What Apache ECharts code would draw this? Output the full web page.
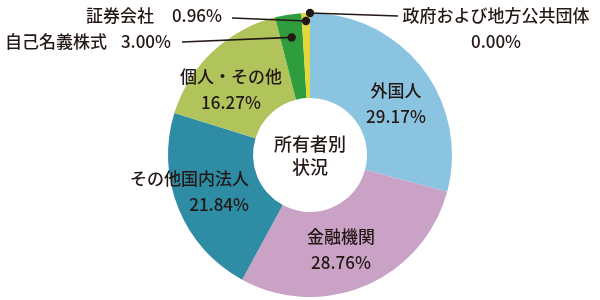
<!DOCTYPE html>
<html><head><meta charset="utf-8">
<script src="https://cdn.jsdelivr.net/npm/echarts@6/dist/echarts.min.js"></script>
<style>html,body{margin:0;padding:0;background:#fff}#c{width:600px;height:300px}</style>
</head><body><div id="c"></div>
<script>
// ---- data ----
const categories = ['外国人','金融機関','その他国内法人','個人・その他','自己名義株式','証券会社','政府および地方公共団体'];
const values = [29.17, 28.76, 21.84, 16.27, 3.00, 0.96, 0.00];
const valueLabels = ['29.17%','28.76%','21.84%','16.27%','3.00%','0.96%','0.00%'];
const centerTitle = '所有者別\n状況';

// ---- styles / layout ----
const colors = ['#8bc4e0','#c9a2c5','#2e8ca5','#b0c45b','#2f9d3e','#e2d83a','#e2d83a'];
const CX = 310, CY = 155, R0 = 57, R1 = 142;
const TXT = '#231815';
const FONT = '"Noto Sans CJK JP", "Noto Sans", sans-serif';
const FS = 17, FW = 500;
const labelPos = [
  [396, 104, 'center'],
  [341, 250, 'center'],
  [249, 192, 'right'],
  [231, 90, 'center'],
  [171, 42, 'right'],
  [222, 16, 'right'],
  [496, 29, 'center']
];
const labelPad = [0, 0, 0, 0, 14, 18, 0];
const labelKind = ['stack','stack','stack','stack','inline','inline','stack'];
const dotR = [null, null, null, null, 119, 134, 142];
const lineEnd = [null, null, null, null, [182, 42], [232, 18], [398, 16]];

const total = values.reduce((a, b) => a + b, 0);
const graphics = [];
let cum = 0;
values.forEach((v, i) => {
  const mid = cum + v / 2;
  cum += v;
  if (dotR[i] == null) return;
  const th = mid / total * Math.PI * 2;
  const x = CX + dotR[i] * Math.sin(th);
  const y = CY - dotR[i] * Math.cos(th);
  graphics.push({type: 'polyline', shape: {points: [[x, y], lineEnd[i]]},
    style: {stroke: TXT, lineWidth: 1.6, fill: null}, z: 10, silent: true});
  graphics.push({type: 'circle', shape: {cx: x, cy: y, r: 4.2},
    style: {fill: TXT}, z: 11, silent: true});
});
graphics.push({type: 'text', x: CX, y: CY + 1, z: 12, silent: true,
  style: {text: centerTitle, fill: TXT, font: FW + ' 18px ' + FONT, lineHeight: 23,
    align: 'center', verticalAlign: 'middle'}});

const data = categories.map((name, i) => ({
  name, value: values[i],
  itemStyle: {color: colors[i]},
  label: {
    formatter: labelKind[i] === 'inline'
      ? '{n|' + name + '}{v' + i + '|' + valueLabels[i] + '}'
      : name + '\n' + valueLabels[i]
  }
}));
const rich = {n: {color: TXT, fontFamily: FONT, fontSize: FS, fontWeight: FW}};
labelPad.forEach((p, i) => {
  rich['v' + i] = {color: TXT, fontFamily: FONT, fontSize: FS, fontWeight: FW, padding: [0, 0, 0, p]};
});

const chart = echarts.init(document.getElementById('c'), null, {renderer: 'canvas'});
chart.setOption({
  animation: false,
  series: [{
    type: 'pie',
    center: [CX, CY],
    radius: [R0, R1],
    startAngle: 90,
    clockwise: true,
    silent: true,
    avoidLabelOverlap: false,
    itemStyle: {borderWidth: 0},
    label: {
      show: true, position: 'inside', color: TXT, fontFamily: FONT, fontSize: FS,
      fontWeight: FW, lineHeight: 26, rich: rich
    },
    labelLine: {show: false},
    labelLayout: function (p) {
      const q = labelPos[p.dataIndex];
      return {x: q[0], y: q[1], align: q[2], verticalAlign: 'middle'};
    },
    data: data
  }],
  graphic: graphics
});
</script>
</body></html>
